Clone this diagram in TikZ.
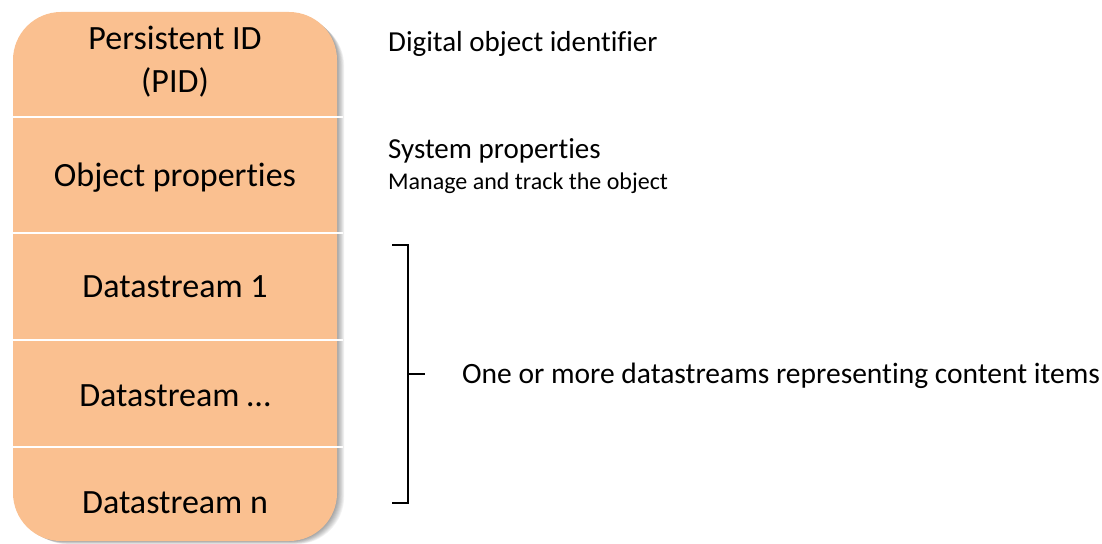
\documentclass[tikz,border=0pt]{standalone}
\usepackage{fontspec}
\setmainfont{Carlito}[Ligatures=NoCommon]
\definecolor{peach}{RGB}{250,192,144}
\begin{document}
\begin{tikzpicture}[x=1bp,y=-1bp,
  boxtext/.style={font=\fontsize{34bp}{41bp}\selectfont, anchor=base, inner sep=0pt},
  note/.style={font=\fontsize{29bp}{35bp}\selectfont, anchor=base west, inner sep=0pt},
  subnote/.style={font=\fontsize{24bp}{29bp}\selectfont, anchor=base west, inner sep=0pt},
  divider/.style={white, line width=2bp},
  bracket/.style={black, line width=1.5bp}]
\useasboundingbox (0,0) rectangle (1102,544);

% soft shadow under the object column
\foreach \i in {1,...,8}
  \fill[black, opacity=0.05, rounded corners=48bp]
    (13+\i*0.9, 12+\i*0.8) rectangle (337+\i*0.9, 541+\i*0.4);

% the digital object column
\fill[peach, rounded corners=48bp] (13,12) rectangle (337,541);
\foreach \y in {117,233,340,447}
  \draw[divider] (13,\y) -- (343,\y);

% section labels
\node[boxtext] (pid)  at (175,50)  {Persistent ID};
\node[boxtext] (pidb) at (175,93)  {(PID)};
\node[boxtext] (prop) at (175,187) {Object properties};
\node[boxtext] (ds1)  at (175,298) {Datastream 1};
\node[boxtext] (dsx)  at (175,406) {Datastream \dots};
\node[boxtext] (dsn)  at (175,513) {Datastream n};

% descriptions
\node[note]    (doi)  at (388,52)  {Digital object identifier};
\node[note]    (sys)  at (388,159) {System properties};
\node[subnote] (mng)  at (388,190) {Manage and track the object};
\node[note, font=\fontsize{29.5bp}{35bp}\selectfont]
               (dsd)  at (462,384) {One or more datastreams representing content items};

% bracket grouping the datastreams
\coordinate (bt0) at (392,245);
\coordinate (bt1) at (408,245);
\coordinate (bb1) at (408,503);
\coordinate (bb0) at (392,503);
\coordinate (bm)  at (408,374);
\coordinate (bmt) at (425,374);
\draw[bracket] (bt0) -- (bt1) -- (bb1) -- (bb0);
\draw[bracket] (bm) -- (bmt);
\end{tikzpicture}
\end{document}
